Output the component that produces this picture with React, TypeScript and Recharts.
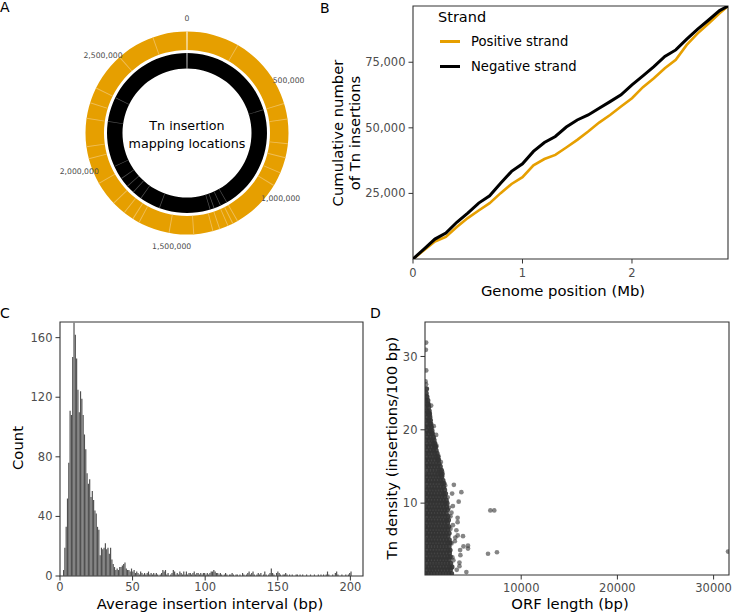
import React from 'react';
import {
  PieChart, Pie, Cell, LineChart, Line, XAxis, YAxis, ReferenceArea, Legend,
  BarChart, Bar, ScatterChart, Scatter, Label,
} from 'recharts';

const FONT = '"DejaVu Sans", Verdana, sans-serif';
const TICK_TEXT = '#4D4D4D';
const FRAME = '#333333';
const TICK_FS = 11.5;
const TITLE_FS = 14.8;

// ---------- Panel A: ring of insertion locations ----------
const GENOME_LENGTH_BP = 2877000;
const ringTickBp = [0, 500000, 1000000, 1500000, 2000000, 2500000];
const positiveGapsBp = [240000, 584000, 656000, 768000, 832000, 904000, 968000, 1200000, 1224000, 1248000, 1288000, 1320000, 1408000, 1520000, 1664000, 1696000, 1744000, 1808000, 1920000, 2040000, 2096000, 2224000, 2296000, 2368000, 2544000, 2720000];
const negativeGapsBp = [584000, 1200000, 1240000, 1280000, 1304000, 1600000, 1720000, 1776000, 1824000, 1880000, 1960000, 2224000, 2368000];
const ringCenterLines = ['Tn insertion', 'mapping locations'];

// ---------- Panel B: cumulative insertions ----------
const genomePosMb = [0, 0.1, 0.2, 0.3, 0.4, 0.5, 0.6, 0.7, 0.8, 0.9, 1.0, 1.1, 1.2, 1.3, 1.4, 1.5, 1.6, 1.7, 1.8, 1.9, 2.0, 2.1, 2.2, 2.3, 2.4, 2.5, 2.6, 2.7, 2.8, 2.877];
const positiveCum = [0, 3300, 6700, 8400, 12200, 15600, 18500, 21300, 25100, 28600, 31200, 35700, 38100, 39700, 42500, 45400, 48600, 52000, 54900, 58100, 61300, 65500, 68900, 72700, 75900, 81600, 86000, 89800, 93700, 96400];
const negativeCum = [0, 3800, 7600, 9900, 14000, 17500, 21300, 24100, 28900, 33400, 36300, 41000, 44400, 46700, 50300, 53000, 54900, 57500, 60000, 62600, 66400, 69800, 73300, 77200, 79700, 83800, 87600, 91100, 94700, 96400];
const strandSeries = [
  { key: 'positive', name: 'Positive strand', color: '#E69F00', width: 2.6 },
  { key: 'negative', name: 'Negative strand', color: '#000000', width: 3 },
];
const posTicks = [0, 1, 2];
const cumTicks = [25000, 50000, 75000];

// ---------- Panel C: histogram of average insertion interval ----------
const BIN_START = 2.5;
const BIN_WIDTH = 0.9;
const intervalCounts = [
  4, 19, 33, 52, 76, 111, 108, 147, 170, 162,
  146, 125, 110, 124, 119, 108, 95, 85, 69, 62,
  65, 53, 57, 51, 44, 42, 33, 31, 14, 19,
  18, 19, 22, 18, 19, 15, 19, 11, 8, 6,
  4, 5, 4, 6, 6, 7, 8, 9, 5, 4,
  4, 3, 5, 3, 4, 2, 3, 2, 1, 3,
  2, 1, 2, 1, 2, 3, 1, 2, 1, 2,
  1, 2, 1, 0, 1, 2, 4, 3, 4, 1,
  2, 0, 1, 2, 4, 3, 1, 2, 1, 3,
  2, 1, 3, 1, 3, 1, 2, 2, 1, 2,
  3, 1, 2, 2, 1, 2, 1, 2, 2, 1,
  2, 1, 2, 3, 3, 4, 3, 2, 2, 1,
  2, 1, 0, 1, 2, 1, 0, 1, 1, 2,
  1, 0, 1, 1, 0, 1, 0, 2, 1, 0,
  1, 2, 3, 1, 2, 3, 1, 0, 1, 2,
  1, 2, 0, 1, 3, 1, 0, 1, 2, 5,
  2, 1, 0, 2, 3, 2, 1, 0, 1, 1,
  2, 1, 0, 1, 0, 1, 0, 0, 1, 1,
  0, 1, 0, 1, 0, 0, 1, 0, 0, 1,
  0, 0, 1, 0, 0, 1, 0, 1, 0, 1,
  0, 1, 3, 1, 0, 0, 1, 0, 2, 3,
  1, 0, 0, 1, 0, 0, 1, 0, 1, 2,
  3, 0,
];
const intervalXTicks = [0, 50, 100, 150, 200];
const countTicks = [0, 40, 80, 120, 160];

// ---------- Panel D: Tn density vs ORF length ----------
const orfDenseRows = [
  [0.4, [60, 350, 640, 950, 1260, 1580, 1870, 2190, 2480, 2760]],
  [0.9, [210, 510, 800, 1100, 1420, 1730, 2040, 2330, 2640]],
  [1.3, [90, 390, 680, 990, 1290, 1600, 1910, 2210, 2520, 2800]],
  [1.8, [240, 540, 850, 1150, 1450, 1760, 2060, 2360, 2660]],
  [2.3, [70, 370, 670, 980, 1280, 1590, 1890, 2190, 2480]],
  [2.7, [220, 520, 830, 1130, 1440, 1740, 2050, 2350, 2620]],
  [3.2, [100, 400, 700, 1000, 1310, 1610, 1920, 2220, 2540]],
  [3.6, [250, 550, 860, 1160, 1460, 1770, 2070, 2380, 2600]],
  [4.1, [80, 380, 690, 990, 1300, 1600, 1900, 2200, 2500]],
  [4.6, [230, 530, 840, 1140, 1450, 1750, 2060, 2360, 2590]],
  [5.0, [110, 410, 710, 1010, 1320, 1620, 1930, 2230, 2520]],
  [5.5, [260, 560, 870, 1170, 1470, 1780, 2080, 2380]],
  [5.9, [90, 390, 700, 1000, 1300, 1610, 1910, 2210, 2500]],
  [6.4, [240, 540, 850, 1150, 1460, 1760, 2070, 2370]],
  [6.8, [70, 370, 680, 980, 1290, 1590, 1900, 2200, 2460]],
  [7.3, [220, 520, 830, 1130, 1430, 1740, 2040, 2340]],
  [7.7, [100, 400, 710, 1010, 1310, 1620, 1920, 2230, 2440]],
  [8.2, [250, 550, 860, 1160, 1470, 1770, 2080, 2380]],
  [8.6, [80, 380, 690, 990, 1300, 1600, 1910, 2210]],
  [9.1, [230, 530, 840, 1140, 1440, 1750, 2050, 2330]],
  [9.5, [110, 410, 720, 1020, 1320, 1630, 1930, 2240]],
  [10.0, [260, 560, 860, 1170, 1470, 1780, 2080, 2290]],
  [10.4, [90, 390, 700, 1000, 1300, 1610, 1910, 2200]],
  [10.9, [240, 540, 850, 1150, 1450, 1760, 2060]],
  [11.3, [70, 370, 680, 980, 1290, 1590, 1900, 2130]],
  [11.8, [220, 520, 830, 1130, 1440, 1740, 2040]],
  [12.2, [100, 400, 710, 1010, 1310, 1620, 1920]],
  [12.7, [250, 550, 860, 1160, 1460, 1770, 1960]],
  [13.1, [80, 380, 690, 990, 1300, 1600, 1860]],
  [13.6, [230, 530, 840, 1140, 1440, 1730]],
  [14.0, [110, 410, 720, 1020, 1320, 1620, 1780]],
  [14.5, [260, 560, 870, 1170, 1470, 1690]],
  [15.0, [90, 390, 700, 1000, 1300, 1580]],
  [15.4, [240, 540, 850, 1150, 1450]],
  [15.9, [70, 370, 680, 980, 1290, 1410]],
  [16.3, [220, 520, 830, 1130, 1330]],
  [16.8, [100, 400, 710, 1010, 1250]],
  [17.2, [250, 550, 860, 1150]],
  [17.7, [80, 380, 690, 990, 1100]],
  [18.1, [230, 530, 840, 1010]],
  [18.6, [110, 410, 720, 940]],
  [19.0, [260, 560, 860]],
  [19.5, [90, 390, 690, 760]],
  [19.9, [240, 540, 720]],
  [20.4, [70, 370, 640]],
  [20.8, [220, 520, 600]],
  [21.3, [100, 400, 560]],
  [21.7, [250, 500]],
  [22.2, [80, 380, 470]],
  [22.6, [230, 430]],
  [23.1, [110, 380]],
  [23.5, [260, 330]],
  [24.0, [90, 290]],
  [24.5, [200]],
  [25.0, [120]],
  [25.6, [160]],
];
const orfSparsePoints = [
  [3000, 12.5], [3780, 11.5], [3500, 10.2], [2820, 11.3], [6790, 9.0], [7200, 9.0],
  [6550, 3.1], [7480, 3.3], [4470, 4.2], [4470, 3.8], [4000, 4.1], [3390, 8.0],
  [3390, 7.4], [3260, 6.3], [3400, 5.6], [3150, 5.3], [3950, 5.5], [3680, 2.9],
  [3580, 1.9], [3580, 1.4], [4300, 0.6], [2750, 8.7], [2650, 8.2], [31500, 3.4],
  [3100, 4.8], [2900, 7.0], [3650, 3.6], [2950, 2.2], [3300, 0.9], [2900, 9.6],
  [120, 31.9], [90, 30.9], [130, 28.1], [60, 26.6], [110, 26.2], [150, 24.6],
  [640, 23.3], [300, 22.4], [520, 21.9], [910, 20.5], [680, 20.3], [480, 20.0],
  [1160, 19.3], [850, 19.0], [1050, 18.2], [1200, 17.8], [900, 17.3], [1430, 14.2],
  [1780, 14.3], [1800, 13.7], [1650, 15.6], [1400, 16.4], [2100, 12.4], [2350, 10.8],
  [2500, 9.4], [2650, 6.5], [2750, 4.5], [2850, 2.6], [2700, 1.2],
];
const orfXTicks = [10000, 20000, 30000];
const densityTicks = [10, 20, 30];

// ---------- derived tables ----------
const RING_GAP_BP = 4500;
const ORIGIN_GAP_BP = 2500;
// overlay segments: gaps coloured, the rest transparent (drawn over a continuous base ring)
function buildGapOverlay(gaps: number[], gapColor: string) {
  const segs: { size: number; fill: string }[] = [];
  segs.push({ size: ORIGIN_GAP_BP, fill: '#ffffff' });
  let prev = ORIGIN_GAP_BP;
  for (const g of gaps) {
    const s = g - RING_GAP_BP / 2;
    segs.push({ size: s - prev, fill: 'none' });
    segs.push({ size: RING_GAP_BP, fill: gapColor });
    prev = s + RING_GAP_BP;
  }
  segs.push({ size: GENOME_LENGTH_BP - ORIGIN_GAP_BP - prev, fill: 'none' });
  segs.push({ size: ORIGIN_GAP_BP, fill: '#ffffff' });
  return segs;
}
const fullGenome = [{ size: GENOME_LENGTH_BP }];
const positiveOverlay = buildGapOverlay(positiveGapsBp, '#EFBE58');
const negativeOverlay = buildGapOverlay(negativeGapsBp, '#505050');

const strandData = genomePosMb.map((p, i) => ({ pos: p, positive: positiveCum[i], negative: negativeCum[i] }));
const intervalBins = intervalCounts.map((c, i) => ({ bin: +(BIN_START + i * BIN_WIDTH).toFixed(2), count: c }));
const orfCorePoints = orfDenseRows.flatMap(([y, xs]: any) => (xs as number[]).map((x) => ({ len: x, density: y as number })));
const orfOtherPoints = orfSparsePoints.map(([x, y]) => ({ len: x, density: y }));

const tickStyle = { fill: TICK_TEXT, fontSize: TICK_FS, fontFamily: FONT };
const fmtComma = (v: number) => v.toLocaleString('en-US');

function HTitle({ x, y, text }: { x: number; y: number; text: string }) {
  return (
    <text x={x} y={y} textAnchor="middle" dominantBaseline="central" fontSize={TITLE_FS} fontFamily={FONT} fill="#000">
      {text}
    </text>
  );
}
function VTitle({ x, y, text }: { x: number; y: number; text: string }) {
  return (
    <text transform={`translate(${x},${y}) rotate(-90)`} textAnchor="middle" dominantBaseline="central" fontSize={TITLE_FS} fontFamily={FONT} fill="#000">
      {text}
    </text>
  );
}

function makeDot(opacity: number, r: number) {
  return function Dot(props: any) {
    const { cx, cy } = props;
    if (cx == null || cy == null) return null;
    return <circle cx={cx} cy={cy} r={r} fill="#333333" fillOpacity={opacity} stroke="none" />;
  };
}
const CoreDot = makeDot(0.9, 2.6);
const SparseDot = makeDot(0.6, 2.35);

// ---------- panels ----------
const RING_CX = 187;
const RING_CY = 133;
const RING_LABEL_R = 114.5;

function PanelA() {
  const common = { dataKey: 'size', cx: RING_CX, cy: RING_CY, startAngle: 90, endAngle: -270, isAnimationActive: false, stroke: 'none', strokeWidth: 0 };
  return (
    <div style={{ position: 'relative', width: 330, height: 290 }}>
      <PieChart width={330} height={290} margin={{ top: 0, right: 0, bottom: 0, left: 0 }}>
        <Pie {...common} data={fullGenome} innerRadius={83} outerRadius={101.5} fill="#E69F00">
          <Cell fill="#E69F00" stroke="none" />
        </Pie>
        <Pie {...common} data={positiveOverlay} innerRadius={83} outerRadius={101.5}>
          {positiveOverlay.map((s, i) => <Cell key={i} fill={s.fill} stroke="none" strokeWidth={0} />)}
        </Pie>
        <Pie {...common} data={fullGenome} innerRadius={64.5} outerRadius={80} fill="#000000">
          <Cell fill="#000000" stroke="none" />
        </Pie>
        <Pie {...common} data={negativeOverlay} innerRadius={64.5} outerRadius={80}>
          {negativeOverlay.map((s, i) => <Cell key={i} fill={s.fill} stroke="none" strokeWidth={0} />)}
        </Pie>
      </PieChart>
      <svg width={330} height={290} style={{ position: 'absolute', left: 0, top: 0, pointerEvents: 'none' }}>
        {ringTickBp.map((t) => {
          const a = (t / GENOME_LENGTH_BP) * Math.PI * 2;
          return (
            <text key={t} x={RING_CX + RING_LABEL_R * Math.sin(a)} y={RING_CY - RING_LABEL_R * Math.cos(a)}
              textAnchor="middle" dominantBaseline="central" fontSize={7.7} fontFamily={FONT} fill={TICK_TEXT}>
              {fmtComma(t)}
            </text>
          );
        })}
        {ringCenterLines.map((l, i) => (
          <text key={l} x={RING_CX} y={RING_CY - 8 + i * 18.3} textAnchor="middle" dominantBaseline="central"
            fontSize={12.7} fontFamily={FONT} fill="#000">{l}</text>
        ))}
      </svg>
    </div>
  );
}

function StrandLegend() {
  return (
    <div style={{ position: 'relative', width: 200, height: 80, fontFamily: FONT, color: '#000' }}>
      <div style={{ position: 'absolute', left: 0, top: 0, fontSize: 14.5, lineHeight: '20px', whiteSpace: 'nowrap' }}>Strand</div>
      {strandSeries.map((s, i) => (
        <div key={s.key} style={{ position: 'absolute', left: 0, top: 24 + i * 25.5, height: 20, display: 'flex', alignItems: 'center' }}>
          <div style={{ width: 20, height: 3, background: s.color, marginLeft: 2 }} />
          <span style={{ marginLeft: 11, fontSize: 13.2, whiteSpace: 'nowrap' }}>{s.name}</span>
        </div>
      ))}
    </div>
  );
}

function PanelB() {
  const X_MAX = 2.877;
  const Y_MAX = 96440;
  return (
    <LineChart width={403} height={300} data={strandData} margin={{ top: 6, right: 5, bottom: 0, left: 23 }}>
      <XAxis type="number" dataKey="pos" domain={[0, X_MAX]} ticks={posTicks} height={41} axisLine={false}
        tickSize={4.5} tickMargin={5.5} tickLine={{ stroke: FRAME }} tick={tickStyle} allowDataOverflow>
        <Label content={() => <HTitle x={233} y={290} text="Genome position (Mb)" />} />
      </XAxis>
      <YAxis type="number" domain={[0, Y_MAX]} ticks={cumTicks} tickFormatter={fmtComma} width={60} axisLine={false}
        tickSize={4.5} tickMargin={3} tickLine={{ stroke: FRAME }} tick={tickStyle} allowDataOverflow>
        <Label content={() => (
          <g>
            <VTitle x={7} y={133} text="Cumulative number" />
            <VTitle x={24} y={133} text="of Tn insertions" />
          </g>
        )} />
      </YAxis>
      {strandSeries.map((s) => (
        <Line key={s.key} type="linear" dataKey={s.key} name={s.name} stroke={s.color} strokeWidth={s.width}
          dot={false} isAnimationActive={false} />
      ))}
      <ReferenceArea x1={0} x2={X_MAX} y1={0} y2={Y_MAX} fill="none" stroke={FRAME} strokeWidth={1.1} ifOverflow="visible" />
      <Legend layout="vertical" align="center" verticalAlign="middle"
        wrapperStyle={{ left: 108, top: 7, width: 200 }} content={() => <StrandLegend />} />
    </LineChart>
  );
}

function PanelC() {
  const X_MAX = 208.7;
  const Y_MAX = 170.5;
  return (
    <BarChart width={370} height={314} data={intervalBins} margin={{ top: 22, right: 7, bottom: 0, left: 0 }} barCategoryGap={0} barGap={0}>
      <XAxis type="number" dataKey="bin" domain={[0, X_MAX]} ticks={intervalXTicks} height={38} axisLine={false}
        tickSize={4.5} tickMargin={2.8} tickLine={{ stroke: FRAME }} tick={tickStyle} allowDataOverflow>
        <Label content={() => <HTitle x={210} y={303} text="Average insertion interval (bp)" />} />
      </XAxis>
      <YAxis type="number" domain={[0, Y_MAX]} ticks={countTicks} width={60} axisLine={false}
        tickSize={4.5} tickMargin={3} tickLine={{ stroke: FRAME }} tick={tickStyle} allowDataOverflow>
        <Label content={() => <VTitle x={17} y={148} text="Count" />} />
      </YAxis>
      <Bar dataKey="count" fill="#505050" barSize={1.6} isAnimationActive={false} />
      <ReferenceArea x1={0} x2={X_MAX} y1={0} y2={Y_MAX} fill="none" stroke={FRAME} strokeWidth={1.1} ifOverflow="visible" />
    </BarChart>
  );
}

function PanelD() {
  const X_MAX = 31600;
  const Y_MIN = 0.2;
  const Y_MAX = 34.7;
  return (
    <ScatterChart width={363} height={314} margin={{ top: 22, right: 4, bottom: 0, left: 0 }}>
      <XAxis type="number" dataKey="len" domain={[0, X_MAX]} ticks={orfXTicks} height={39} axisLine={false}
        tickSize={4.5} tickMargin={4.5} tickLine={{ stroke: FRAME }} tick={tickStyle} allowDataOverflow>
        <Label content={() => <HTitle x={200} y={303} text="ORF length (bp)" />} />
      </XAxis>
      <YAxis type="number" dataKey="density" domain={[Y_MIN, Y_MAX]} ticks={densityTicks} width={55} axisLine={false}
        tickSize={4.5} tickMargin={3} tickLine={{ stroke: FRAME }} tick={tickStyle} allowDataOverflow>
        <Label content={() => <VTitle x={21.7} y={148} text="Tn density (insertions/100 bp)" />} />
      </YAxis>
      <Scatter data={orfCorePoints} fill="#333333" shape={<CoreDot />} isAnimationActive={false} />
      <Scatter data={orfOtherPoints} fill="#333333" shape={<SparseDot />} isAnimationActive={false} />
      <ReferenceArea x1={0} x2={X_MAX} y1={Y_MIN} y2={Y_MAX} fill="none" stroke={FRAME} strokeWidth={1.1} ifOverflow="visible" />
    </ScatterChart>
  );
}

const panelLetters = [
  { t: 'A', x: 0, y: 12 },
  { t: 'B', x: 320, y: 12.7 },
  { t: 'C', x: 0, y: 318 },
  { t: 'D', x: 370, y: 318 },
];

export default function App() {
  return (
    <div style={{ position: 'absolute', left: 0, top: 0, width: 733, height: 614, background: '#fff', overflow: 'hidden', fontFamily: FONT }}>
      <div style={{ position: 'absolute', left: 0, top: 0 }}><PanelA /></div>
      <div style={{ position: 'absolute', left: 330, top: 0 }}><PanelB /></div>
      <div style={{ position: 'absolute', left: 0, top: 300 }}><PanelC /></div>
      <div style={{ position: 'absolute', left: 370, top: 300 }}><PanelD /></div>
      <svg width={733} height={614} style={{ position: 'absolute', left: 0, top: 0, pointerEvents: 'none' }}>
        {panelLetters.map((p) => (
          <text key={p.t} x={p.x} y={p.y} fontSize={14} fontFamily={FONT} fill="#000">{p.t}</text>
        ))}
      </svg>
    </div>
  );
}
